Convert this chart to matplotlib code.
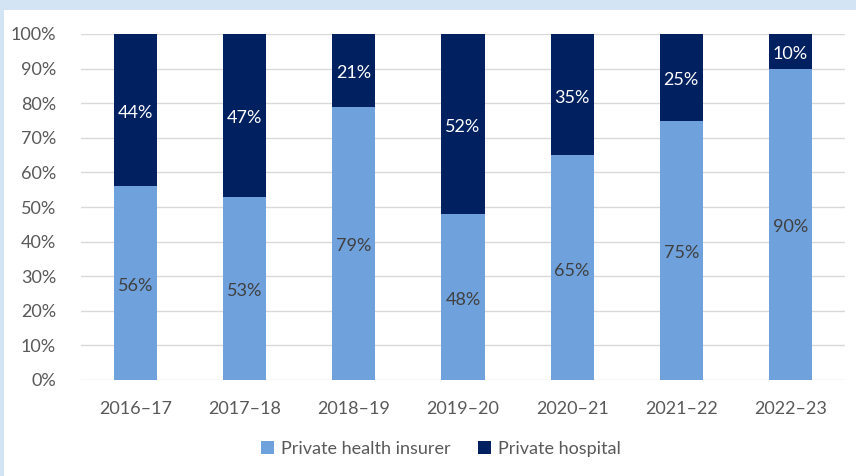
import matplotlib
matplotlib.use("Agg")
import matplotlib.pyplot as plt
from matplotlib.patches import Rectangle
import numpy as np

categories = ["2016–17", "2017–18", "2018–19", "2019–20", "2020–21", "2021–22", "2022–23"]
insurer = [56, 53, 79, 48, 65, 75, 90]
hospital = [44, 47, 21, 52, 35, 25, 10]
series_names = ["Private health insurer", "Private hospital"]
yticks = [0, 10, 20, 30, 40, 50, 60, 70, 80, 90, 100]

plt.rcParams['font.family'] = ['Lato', 'DejaVu Sans']

W, H = 856, 476
fig = plt.figure(figsize=(W / 100, H / 100), dpi=100)
fig.patch.set_facecolor("#D3E4F4")
fig.patches.append(Rectangle((4 / W, 0), 1, (H - 10) / H, transform=fig.transFigure,
                             facecolor="white", edgecolor="none", zorder=-5))

ax = fig.add_axes([81 / W, (H - 380) / H, (845 - 81) / W, (380 - 34) / H], zorder=2)
ax.set_facecolor("none")

light = "#6FA1DC"
navy = "#002060"
fs = 13
x = np.arange(len(categories))
w = 0.395
ax.bar(x, insurer, w, color=light, label=series_names[0], zorder=2)
ax.bar(x, hospital, w, bottom=insurer, color=navy, label=series_names[1], zorder=2)

for i in range(len(categories)):
    ax.annotate(f"{insurer[i]}%", (x[i], insurer[i] / 2), xytext=(0, -2.2),
                textcoords="offset points", ha="center", va="center",
                fontsize=fs, color="#404040", zorder=3)
    ax.annotate(f"{hospital[i]}%", (x[i], insurer[i] + hospital[i] / 2), xytext=(0, -2.2),
                textcoords="offset points", ha="center", va="center",
                fontsize=fs, color="white", zorder=3)

ax.set_xlim(-0.5, len(categories) - 0.5)
ax.set_ylim(0, 100)
ax.set_yticks(yticks)
ax.set_yticklabels([f"{v}%" for v in yticks])
ax.set_xticks(x)
ax.set_xticklabels(categories)
ax.tick_params(axis="both", length=0, labelsize=fs, colors="#595959")
ax.tick_params(axis="y", pad=18)
ax.tick_params(axis="x", pad=15)
ax.grid(axis="y", color="#D9D9D9", linewidth=1, zorder=0)
for s in ax.spines.values():
    s.set_visible(False)

leg = fig.legend(loc="center", bbox_to_anchor=(441 / W, (H - 449) / H), ncol=2, frameon=False,
                 fontsize=fs, handlelength=0.7, handleheight=0.7, columnspacing=1.55,
                 handletextpad=0.4)
for t in leg.get_texts():
    t.set_color("#595959")

fig.savefig("out.png", dpi=100)
